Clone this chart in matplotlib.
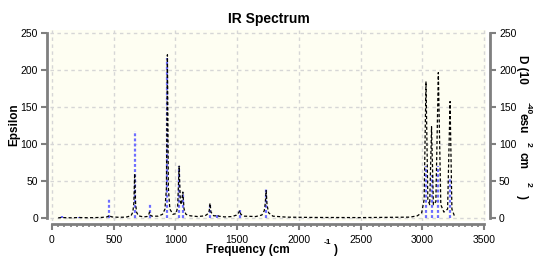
import matplotlib
matplotlib.use('Agg')
import matplotlib.pyplot as plt
from matplotlib.ticker import MultipleLocator

plt.rcParams['font.family'] = ['Liberation Sans', 'DejaVu Sans']

# computed spectrum (Epsilon)
freq = [50, 70, 80, 90, 150, 210, 220, 230, 300, 400, 445, 458, 465, 472, 485,
        540, 600, 640, 655, 663, 670, 677, 685, 700, 740, 770, 783, 790, 797, 810,
        860, 895, 915, 927, 935, 943, 955, 980, 1005, 1018, 1030, 1040, 1048, 1060,
        1070, 1085, 1120, 1180, 1240, 1265, 1274, 1280, 1288, 1310, 1330, 1340, 1350,
        1400, 1460, 1495, 1512, 1520, 1530, 1560, 1650, 1700, 1720, 1728, 1735, 1742,
        1755, 1790, 1900, 2100, 2500, 2900, 2960, 2995, 3015, 3030, 3045, 3060, 3075,
        3090, 3110, 3130, 3150, 3175, 3205, 3225, 3240, 3260]
epsilon = [0.2, 0.6, 1.5, 0.6, 0.3, 0.6, 1.0, 0.6, 0.4, 0.8, 1.5, 2.5, 4, 2.5, 1.5,
           1, 1.2, 3, 8, 20, 60, 20, 8, 3, 1.5, 2, 4, 8, 4, 2.5,
           2.5, 5, 12, 40, 220, 40, 12, 5, 6, 15, 70, 22, 18, 35,
           12, 5, 3, 2, 3, 6, 10, 20, 8, 3, 3, 4, 2.5,
           1.5, 2, 4, 7, 10, 5, 2.5, 2, 4, 10, 20, 37, 18,
           7, 2.5, 1.2, 0.8, 0.6, 1.2, 3, 7, 25, 184, 25, 18, 123,
           18, 22, 196, 18, 8, 12, 157, 12, 3]

# stick intensities (D, right axis - same 0..250 scale as the left one)
stick_freq = [80, 220, 465, 670, 790, 935, 1030, 1060, 1280, 1340, 1520, 1735,
              3030, 3075, 3130, 3225]
stick_d = [3, 1.5, 25, 117, 20, 215, 70, 35, 20, 5, 12, 41, 70, 58, 70, 55]

W, H = 534, 261
fig = plt.figure(figsize=(W / 100, H / 100), dpi=100)
ax = fig.add_axes([50 / W, 1 - 221 / H, 436 / W, 191 / H])
ax.set_facecolor('#fefef2')
ax2 = ax.twinx()

ax.set_xlim(-16.2, 3516.2)
ax.set_ylim(-4.0, 253.4)
ax2.set_ylim(ax.get_ylim())

ax.vlines(stick_freq, 0, stick_d, color='#6e6eff', lw=1.6,
          linestyles=[(0, (1.3, 1.0))], zorder=2)
ax.plot(freq, epsilon, color='black', lw=0.9, ls=(0, (2.5, 1.8)), zorder=3)

ax.xaxis.set_major_locator(MultipleLocator(500))
ax.xaxis.set_minor_locator(MultipleLocator(50))
ax.yaxis.set_major_locator(MultipleLocator(50))
ax2.yaxis.set_major_locator(MultipleLocator(50))

ax.grid(True, color='#d6d6d6', ls=(0, (2.5, 2.5)), lw=1.0)
ax.set_axisbelow(True)

sc = '#7f7f7f'
for a in (ax, ax2):
    for s in a.spines.values():
        s.set_visible(False)
ax.spines['left'].set_visible(True)
ax.spines['bottom'].set_visible(True)
ax2.spines['right'].set_visible(True)
ax.spines['left'].set_position(('outward', 2.2))
ax.spines['bottom'].set_position(('outward', 2.2))
ax2.spines['right'].set_position(('outward', 2.9))
ax.spines['left'].set_bounds(0, 250)
ax.spines['bottom'].set_bounds(0, 3500)
ax2.spines['right'].set_bounds(0, 250)
for s in (ax.spines['left'], ax.spines['bottom'], ax2.spines['right']):
    s.set_color(sc)
    s.set_linewidth(2)

ax.tick_params(axis='y', length=4, width=1.5, color=sc, pad=2.5, labelsize=7.5)
ax.tick_params(axis='x', which='major', length=4, width=1.5, color=sc, pad=4, labelsize=7.5)
ax.tick_params(axis='x', which='minor', length=2.5, width=1.2, color=sc)
ax2.tick_params(axis='y', length=4, width=1.5, color=sc, pad=2.5, labelsize=7.5)

# title and axis labels
fig.text(269 / W, 1 - 19 / H, 'IR Spectrum', ha='center', va='center',
         fontsize=10, fontweight='bold')
fig.text(248 / W, 1 - 250 / H, 'Frequency (cm', ha='center', va='center',
         fontsize=8.5, fontweight='bold')
fig.text(327 / W, 1 - 242 / H, '-1', ha='center', va='center',
         fontsize=6, fontweight='bold')
fig.text(336 / W, 1 - 250 / H, ')', ha='center', va='center',
         fontsize=8.5, fontweight='bold')
fig.text(14 / W, 1 - 125 / H, 'Epsilon', ha='center', va='center',
         rotation=90, fontsize=8.5, fontweight='bold')

rpieces = [('D (10', 522, 69, 8.5), ('-40', 528, 108, 6), ('esu', 522, 123, 8.5),
           ('2', 528, 144, 6), ('cm', 522, 161, 8.5), ('2', 528, 184, 6),
           (')', 522, 197, 8.5)]
for txt, px, py, fs in rpieces:
    fig.text(px / W, 1 - py / H, txt, ha='center', va='center', rotation=-90,
             fontsize=fs, fontweight='bold')

plt.savefig('out.png', dpi=100)
plt.close(fig)
